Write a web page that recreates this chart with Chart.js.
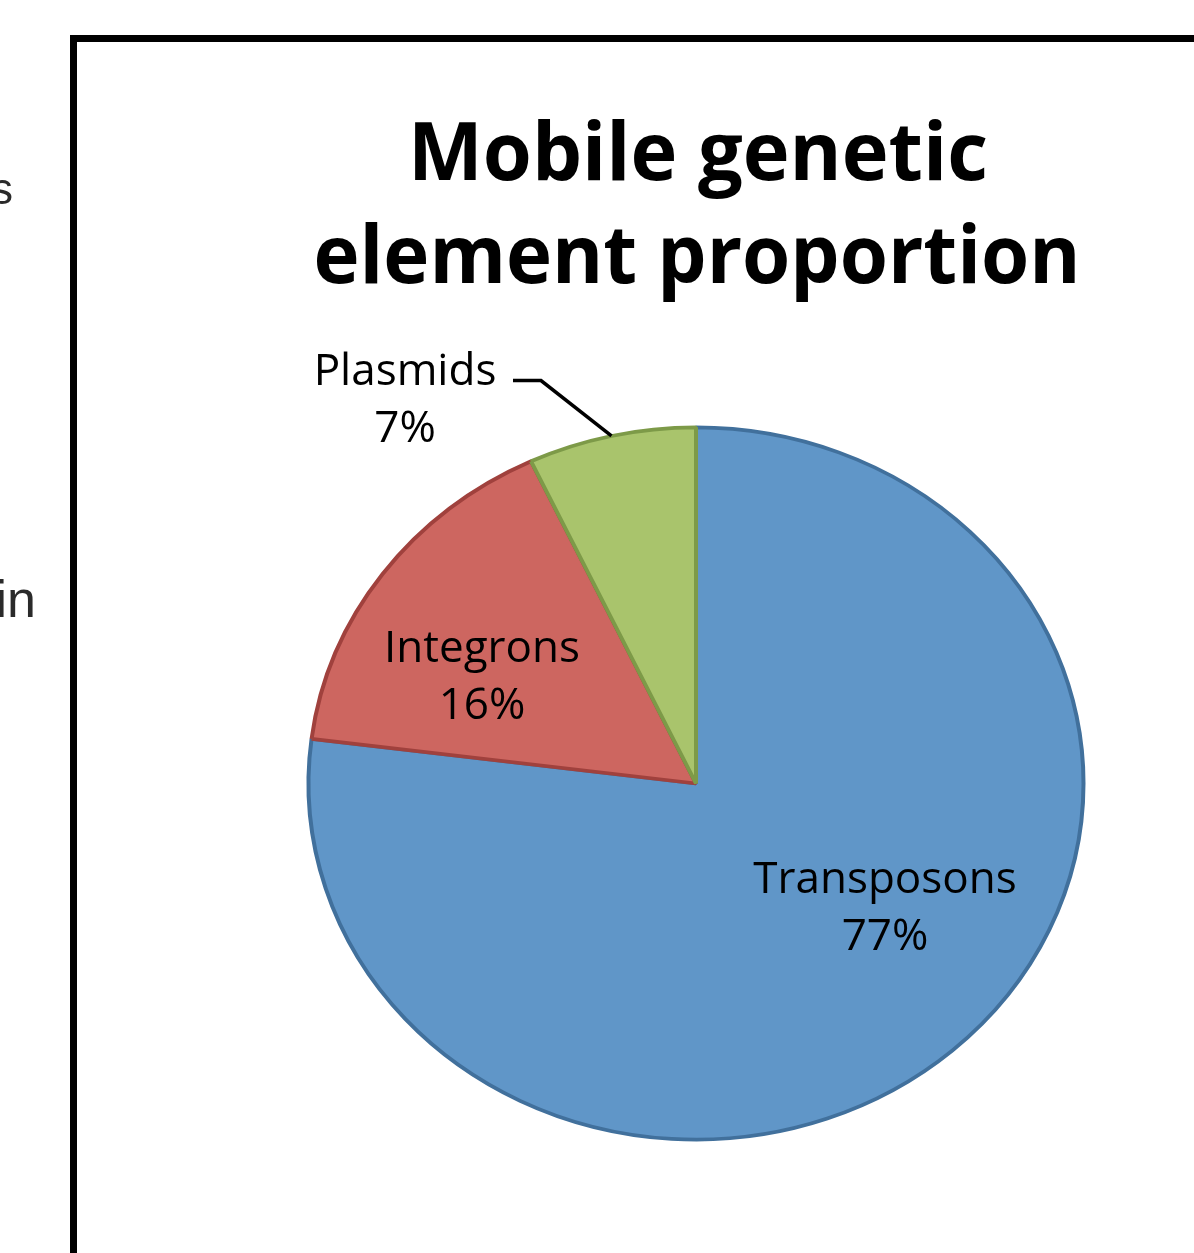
<!DOCTYPE html>
<html>
<head>
<meta charset="utf-8">
<script src="https://cdn.jsdelivr.net/npm/chart.js@4/dist/chart.umd.min.js"></script>
<style>
html, body { margin: 0; padding: 0; background: #fff; overflow: hidden; }
#wrap { position: relative; width: 1194px; height: 1253px; }
</style>
</head>
<body>
<div id="wrap"><canvas id="mgeChart" width="1194" height="1253"></canvas></div>
<script>
// data
var categories = ['Transposons', 'Integrons', 'Plasmids'];
var percents = [77, 16, 7];
var sliceColors = ['#6096C8', '#CD6660', '#A9C46C'];
var sliceBorders = ['#41709C', '#A0413D', '#7D9A48'];
var titleLines = ['Mobile genetic', 'element proportion'];

// the excel pie is a bit flattened
var yScale = 0.919;

// label anchors, relative to the pie centre (first baseline)
var labelOffsets = [[189, 109], [-214, -122], [-291, -399]];

function pieCentre(chart) {
    var a = chart.chartArea;
    return { x: (a.left + a.right) / 2, y: (a.top + a.bottom) / 2 };
}

var squash = {
    id: 'squash',
    beforeDatasetsDraw: function (chart) {
        var c = pieCentre(chart);
        var ctx = chart.ctx;
        ctx.save();
        ctx.translate(c.x, c.y);
        ctx.scale(1, yScale);
        ctx.translate(-c.x, -c.y);
    },
    afterDatasetsDraw: function (chart) {
        chart.ctx.restore();
    }
};

var decorations = {
    id: 'decorations',
    afterDraw: function (chart) {
        var ctx = chart.ctx;
        var c = pieCentre(chart);
        var total = percents.reduce(function (s, v) { return s + v; }, 0);

        ctx.save();

        // bits of the neighbouring figure that got cropped in
        ctx.filter = 'blur(0.6px)';
        ctx.fillStyle = '#2a2a2a';
        ctx.textAlign = 'right';
        ctx.font = '44px "Liberation Sans"';
        ctx.fillText('s', 13, 204);
        ctx.font = '52px "Liberation Sans"';
        ctx.fillText('in', 36, 617);
        ctx.filter = 'none';

        // frame
        ctx.strokeStyle = '#000';
        ctx.lineWidth = 7;
        ctx.beginPath();
        ctx.moveTo(73.5, 1260);
        ctx.lineTo(73.5, 38.5);
        ctx.lineTo(1200, 38.5);
        ctx.stroke();

        // title
        ctx.fillStyle = '#000';
        ctx.textAlign = 'center';
        ctx.font = 'bold 80px "Open Sans"';
        ctx.fillText(titleLines[0], 698, 180, 580);
        ctx.fillText(titleLines[1], 697, 283, 767);

        // slice labels
        ctx.font = '44px "Open Sans"';
        for (var i = 0; i < categories.length; i++) {
            var pct = Math.round(percents[i] / total * 100) + '%';
            var lx = c.x + labelOffsets[i][0];
            var ly = c.y + labelOffsets[i][1];
            ctx.fillText(categories[i], lx, ly);
            ctx.fillText(pct, lx, ly + 57);
        }

        // leader line for plasmids, to the middle of its arc
        var arc = chart.getDatasetMeta(0).data[2];
        var p = arc.getProps(['startAngle', 'endAngle', 'outerRadius'], true);
        var mid = (p.startAngle + p.endAngle) / 2;
        var ex = c.x + Math.cos(mid) * p.outerRadius;
        var ey = c.y + Math.sin(mid) * p.outerRadius * yScale;
        var px = c.x + labelOffsets[2][0];
        var py = c.y + labelOffsets[2][1] - 4;
        ctx.strokeStyle = '#000';
        ctx.lineWidth = 3.5;
        ctx.lineJoin = 'miter';
        ctx.beginPath();
        ctx.moveTo(px + 108, py);
        ctx.lineTo(px + 136, py);
        ctx.lineTo(ex, ey);
        ctx.stroke();

        ctx.restore();
    }
};

var pieCtx = document.getElementById('mgeChart').getContext('2d');
var mgeChart = new Chart(pieCtx, {
    type: 'pie',
    data: {
        labels: categories,
        datasets: [{
            data: percents,
            backgroundColor: sliceColors,
            borderColor: sliceBorders,
            borderWidth: 4
        }]
    },
    options: {
        responsive: false,
        animation: false,
        devicePixelRatio: 1,
        layout: {
            padding: { left: 306, right: 108, top: 394, bottom: 80 }
        },
        plugins: {
            legend: { display: false },
            tooltip: { enabled: false }
        }
    },
    plugins: [squash, decorations]
});
</script>
</body>
</html>
